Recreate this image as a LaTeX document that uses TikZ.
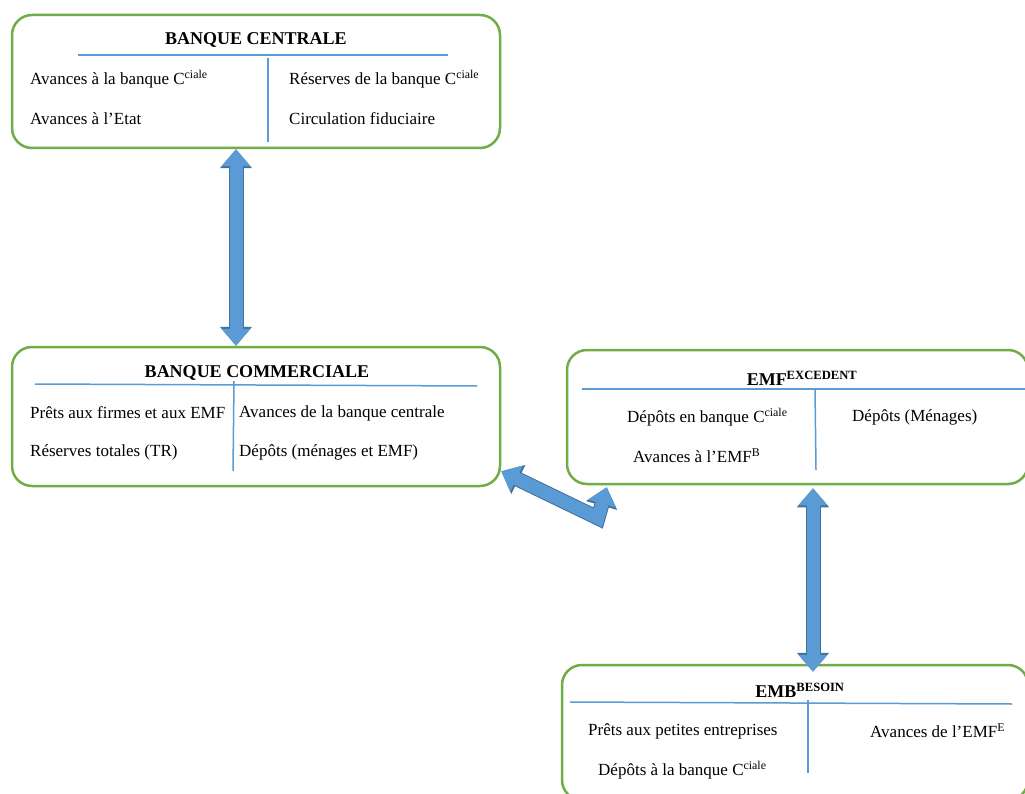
\documentclass[tikz,border=0pt]{standalone}
\usepackage{fontspec}
\setmainfont{Liberation Serif}
\usetikzlibrary{arrows.meta}
\definecolor{boxgreen}{HTML}{70AD47}
\definecolor{ruleblue}{HTML}{5B9BD5}
\definecolor{flowedge}{HTML}{41719C}
\tikzset{account/.style={draw=boxgreen, line width=2.5pt, rounded corners=20pt, inner sep=0, fill=white}}
\tikzset{rule/.style={draw=ruleblue, line width=1.5pt}}
\tikzset{entry/.style={anchor=west, inner sep=0, font=\fontsize{17}{20}\selectfont}}
\tikzset{heading/.style={inner sep=0, font=\fontsize{18}{21}\selectfont\bfseries}}
\tikzset{flow/.style={line width=13pt, draw=ruleblue, line join=miter,
        arrows={Triangle[length=17pt,width=28pt]-Triangle[length=17pt,width=28pt]},
        preaction={draw=flowedge, line width=15pt, line join=miter,
        arrows={Triangle[length=19pt,width=31pt]-Triangle[length=19pt,width=31pt]}}}}

\begin{document}
\begin{tikzpicture}[x=1pt,y=-1pt]
\useasboundingbox (0,0) rectangle (1025,794);
\clip (0,0) rectangle (1025,794);
% Banque centrale
\node[account, minimum width=488pt, minimum height=133pt] (bc) at (256,81.5) {};
\node[heading] (bctitle) at (256,40) {BANQUE CENTRALE};
\draw[rule] (78,55) -- (448,55);
\draw[rule] (268,58) -- (268,142);
\node[entry] (bca1) at (30,79) {Avances à la banque C\textsuperscript{ciale}};
\node[entry] (bca2) at (30,119) {Avances à l’Etat};
\node[entry] (bcp1) at (289,79) {Réserves de la banque C\textsuperscript{ciale}};
\node[entry] (bcp2) at (289,119) {Circulation fiduciaire};
% Banque commerciale
\node[account, minimum width=488pt, minimum height=139pt] (bcom) at (256,416.5) {};
\node[heading] (bcomtitle) at (257,373) {BANQUE COMMERCIALE};
\draw[rule] (35,384) -- (477,386);
\draw[rule] (234,381) -- (233,471);
\node[entry] (bcoma1) at (30,413) {Prêts aux firmes et aux EMF};
\node[entry] (bcoma2) at (30,452) {Réserves totales (TR)};
\node[entry] (bcomp1) at (239,413) {Avances de la banque centrale};
\node[entry] (bcomp2) at (239,452) {Dépôts (ménages et EMF)};
% EMF excedent
\node[account, minimum width=461pt, minimum height=134pt] (emfe) at (797.5,417) {};
\node[heading] (emfetitle) at (802,378) {EMF\textsuperscript{EXCEDENT}};
\draw[rule] (582,389) -- (1025,389);
\draw[rule] (815,388) -- (816,470);
\node[entry] (emfea1) at (627,417) {Dépôts en banque C\textsuperscript{ciale}};
\node[entry] (emfea2) at (633,456) {Avances à l’EMF\textsuperscript{B}};
\node[entry] (emfep1) at (852,417) {Dépôts (Ménages)};
% EMB besoin
\node[account, minimum width=466pt, minimum height=135pt] (emb) at (795,732.5) {};
\node[heading] (embtitle) at (800,690) {EMB\textsuperscript{BESOIN}};
\draw[rule] (570,702) -- (1012,704);
\draw[rule] (808,700) -- (808,773);
\node[entry] (emba1) at (588,731) {Prêts aux petites entreprises};
\node[entry] (emba2) at (598,770) {Dépôts à la banque C\textsuperscript{ciale}};
\node[entry] (embp1) at (870,731) {Avances de l’EMF\textsuperscript{E}};
% Flows
\coordinate (bend) at (598,518);
\draw[flow] ([xshift=-20pt]bc.south) -- ([xshift=-20pt]bcom.north);
\draw[flow] ([xshift=15.5pt,yshift=-3pt]emfe.south) -- ([xshift=18pt,yshift=-8pt]emb.north);
\draw[flow] ([yshift=16pt]bcom.south east) -- (bend) -- ([xshift=41pt,yshift=-2pt]emfe.south west);
\end{tikzpicture}
\end{document}
